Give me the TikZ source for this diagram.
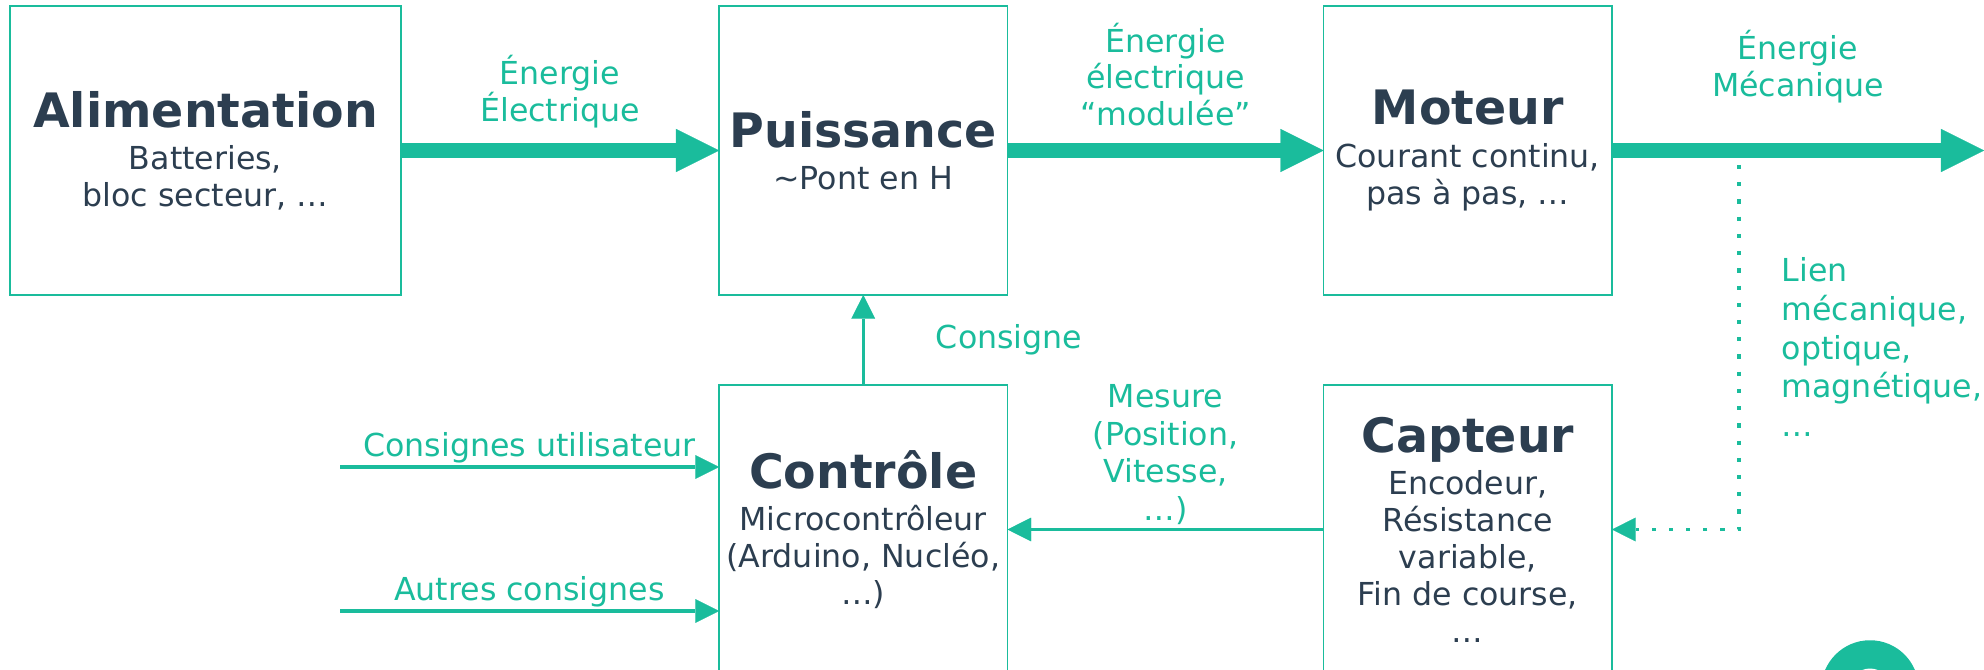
\documentclass[tikz,border=0pt]{standalone}
\usepackage{fontspec}
\setmainfont{DejaVu Sans}
\usetikzlibrary{arrows.meta, positioning}
\definecolor{vert}{HTML}{1ABC9C}
\definecolor{sombre}{HTML}{2C3E50}
\newcommand{\titrebloc}[1]{{\fontsize{27}{32}\selectfont\bfseries #1}}

\begin{document}
\begin{tikzpicture}[
    node distance=1.8cm and 6.34cm,
    bloc/.style={draw=vert, line width=1.1pt, minimum width=5.77cm, minimum height=5.78cm, inner sep=1pt, outer sep=0pt, align=center, text=sombre, font=\fontsize{18}{21}\selectfont},
    etiquette/.style={text=vert, inner sep=0pt, align=center, font=\fontsize{18}{21}\selectfont},
    grosse/.style={-{Triangle[length=24.5pt, width=24.5pt, line width=0.1pt]}, line width=8.5pt, vert},
    fleche/.style={-{Triangle[length=13.5pt, width=13.5pt, line width=0.1pt]}, line width=1.9pt, vert},
    lien/.style={fleche, dash pattern=on 2.4pt off 7.4pt},
]
    \useasboundingbox (0,0) rectangle (39.68,-13.40);

    % Chaine de puissance
    \node[bloc, minimum width=7.82cm] (alim) at (4.11,-3.01) {\titrebloc{Alimentation}\\[3pt]Batteries,\\bloc secteur, …};
    \node[bloc, right=6.36cm of alim] (puis) {\titrebloc{Puissance}\\[3pt]\textasciitilde Pont en H};
    \node[bloc, right=6.32cm of puis] (moteur) {\titrebloc{Moteur}\\[3pt]Courant continu,\\pas à pas, …};

    % Chaine d'information
    \node[bloc, below=of puis] (ctrl) {\titrebloc{Contrôle}\\[3pt]Microcontrôleur\\(Arduino, Nucléo,\\…)};
    \node[bloc, below=of moteur] (capt) {\titrebloc{Capteur}\\[3pt]Encodeur,\\Résistance\\variable,\\Fin de course,\\…};

    % Points libres
    \coordinate (sortie) at ([xshift=7.44cm]moteur.east);
    \coordinate (lienhaut) at (34.78,-3.30);
    \coordinate (cu) at ([xshift=-7.58cm, yshift=1.25cm]ctrl.west);
    \coordinate (ac) at ([xshift=-7.58cm, yshift=-1.63cm]ctrl.west);

    % Energie
    \draw[grosse] (alim) -- node[etiquette, yshift=1.17cm] {Énergie\\Électrique} (puis);
    \draw[grosse] (puis) -- node[etiquette, yshift=1.52cm] {Énergie\\électrique\\“modulée”} (moteur);
    \draw[grosse] (moteur) -- node[etiquette, yshift=1.68cm] {Énergie\\Mécanique} (sortie);

    % Information
    \draw[fleche] (ctrl) -- node[etiquette, right=1.42cm] {Consigne} (puis);
    \draw[fleche] (capt) -- node[etiquette, yshift=1.5cm, font=\fontsize{18}{21.5}\selectfont] {Mesure\\(Position,\\Vitesse,\\…)} (ctrl);
    \draw[fleche] (cu) -- node[etiquette, above=1pt] {Consignes utilisateur} (cu -| ctrl.west);
    \draw[fleche] (ac) -- node[etiquette, above=1pt] {Autres consignes} (ac -| ctrl.west);
    \draw[lien] (lienhaut) |- node[etiquette, pos=0.25, right=0.82cm, align=left, font=\fontsize{18}{22}\selectfont] {Lien\\mécanique,\\optique,\\magnétique,\\…} (capt);

    % Logo
    \fill[vert] (37.4,-13.78) circle (0.975);
    \fill[white] (37.4,-13.78) circle (0.41);
\end{tikzpicture}
\end{document}
